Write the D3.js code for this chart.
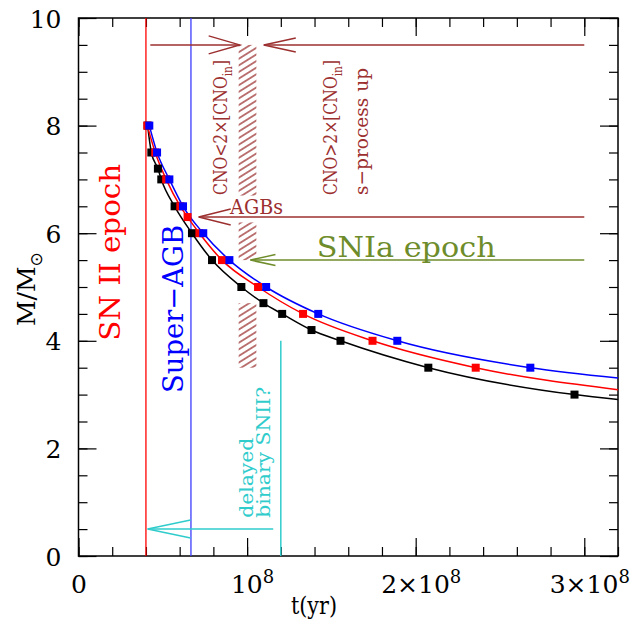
<!DOCTYPE html>
<html>
<head>
<meta charset="utf-8">
<script src="https://cdn.jsdelivr.net/npm/d3@7"></script>
<style>
body{margin:0;background:#fff;}
text{font-family:"DejaVu Serif","Liberation Serif",serif;}
</style>
</head>
<body>
<div class="chart-container"></div>
<script>
// values: t in yr, M in solar masses
const timeRed   = [0.408e8, 0.455e8, 0.52e8, 0.604e8, 0.647e8, 0.717e8, 0.851e8, 1.065e8, 1.332e8, 1.744e8, 2.356e8];
const massRed   = [8, 7.5, 7, 6.5, 6.3, 6, 5.5, 5, 4.5, 4, 3.5];
const timeBlue  = [0.42e8, 0.466e8, 0.539e8, 0.62e8, 0.74e8, 0.895e8, 1.113e8, 1.422e8, 1.891e8, 2.68e8];
const massBlue  = [8, 7.5, 7, 6.5, 6, 5.5, 5, 4.5, 4, 3.5];
const timeBlack = [0.41e8, 0.432e8, 0.471e8, 0.491e8, 0.57e8, 0.673e8, 0.792e8, 0.966e8, 1.097e8, 1.208e8, 1.382e8, 1.554e8, 2.075e8, 2.942e8];
const massBlack = [8, 7.5, 7.2, 7, 6.5, 6, 5.5, 5, 4.7, 4.5, 4.2, 4, 3.5, 3];
// where each curve leaves the right edge (t = 3.2e8)
const edgeMass  = {red: 3.09, blue: 3.31, black: 2.91};

// epochs / annotations
const snIIEpochT = 0.40e8;
const superAgbT  = 0.667e8;
const delayedT   = 1.2e8;
const delayedTopM = 4;
const arrowFromT = [0.426e8, 3.0e8, 3.0e8, 3.0e8, 1.155e8];
const arrowToT   = [0.956e8, 1.099e8, 0.713e8, 1.02e8, 0.41e8];
const arrowMass  = [9.5, 9.5, 6.3, 5.5, 0.5];
const hatchT     = [0.95e8, 1.055e8];
const hatchLowM  = [6.7, 5.5, 3.5];
const hatchHighM = [9.5, 6.2, 4.7];

// axes
const xDomain = [0, 3.2e8];
const yDomain = [0, 10];
const xTickValues = [0, 1e8, 2e8, 3e8];
const xTickLabels = ['0', '10^8', '2×10^8', '3×10^8'];
const yTickValues = [0, 2, 4, 6, 8, 10];

const darkRed = '#9c2f2f';
const olive = '#6e8c2a';
const cyan = '#30cccc';

function setupCanvas(){
    const svg_width = 637;
    const svg_height = 626;
    const chart_margin = {top:18, right:19, bottom:70, left:78.5};
    const x0 = chart_margin.left, x1 = svg_width - chart_margin.right;
    const y0 = svg_height - chart_margin.bottom, y1 = chart_margin.top;

    const svg = d3.select('.chart-container').append('svg')
        .attr('width', svg_width).attr('height', svg_height);

    const xScale = d3.scaleLinear().domain(xDomain).range([x0, x1]);
    const yScale = d3.scaleLinear().domain(yDomain).range([y0, y1]);

    const defs = svg.append('defs');
    defs.append('clipPath').attr('id', 'plot-clip')
        .append('rect').attr('x', x0).attr('y', y1).attr('width', x1 - x0).attr('height', y0 - y1);
    const pat = defs.append('pattern').attr('id', 'hatch')
        .attr('patternUnits', 'userSpaceOnUse')
        .attr('width', 12).attr('height', 5.6)
        .attr('patternTransform', 'rotate(-32)');
    pat.append('line').attr('x1', 0).attr('x2', 12).attr('y1', 2.8).attr('y2', 2.8)
        .attr('stroke', darkRed).attr('stroke-width', 1.3);

    // ticks: minor + major on all four sides, pointing inward
    const xMinor = d3.range(0, 3.2e8 + 1, 2e7);
    const yMinor = d3.range(0, 10.01, 0.5);
    function ticks(axisFn, values, size, tr){
        const g = svg.append('g').attr('transform', tr)
            .call(axisFn.tickValues(values).tickSizeInner(-size).tickSizeOuter(0).tickFormat(''));
        g.select('.domain').remove();
        g.selectAll('line').attr('stroke-width', 1.2);
        return g;
    }
    ticks(d3.axisBottom(xScale), xMinor, 9, `translate(0,${y0})`);
    ticks(d3.axisTop(xScale), xMinor, 9, `translate(0,${y1})`);
    ticks(d3.axisLeft(yScale), yMinor, 9, `translate(${x0},0)`);
    ticks(d3.axisRight(yScale), yMinor, 9, `translate(${x1},0)`);
    ticks(d3.axisTop(xScale), xTickValues, 18, `translate(0,${y1})`);
    ticks(d3.axisRight(yScale), yTickValues, 18, `translate(${x1},0)`);

    const xAxisDraw = ticks(d3.axisBottom(xScale), xTickValues, 18, `translate(0,${y0})`);
    xAxisDraw.selectAll('.tick').append('text')
        .attr('fill', '#000').attr('font-size', 25).attr('text-anchor', 'middle')
        .attr('y', 37)
        .each(function(d, i){
            const parts = xTickLabels[i].split('^');
            const t = d3.select(this);
            t.append('tspan').text(parts[0]);
            if(parts[1]){
                t.attr('dx', 5);
                t.append('tspan').attr('dy', -10).attr('font-size', 18).text(parts[1]);
            }
        });

    const yAxisDraw = ticks(d3.axisLeft(yScale), yTickValues, 18, `translate(${x0},0)`);
    yAxisDraw.selectAll('.tick').append('text')
        .attr('fill', '#000').attr('font-size', 25).attr('text-anchor', 'end')
        .attr('x', -17).attr('dy', '0.36em')
        .text(d => d);

    // frame
    svg.append('rect').attr('x', x0).attr('y', y1)
        .attr('width', x1 - x0).attr('height', y0 - y1)
        .attr('fill', 'none').attr('stroke', '#000').attr('stroke-width', 1.5);

    // axis titles
    svg.append('text').attr('x', 291).attr('y', 614)
        .attr('font-size', 25).attr('textLength', 46).attr('lengthAdjust', 'spacingAndGlyphs')
        .text('t(yr)');
    const yl = svg.append('text').attr('transform', 'translate(35,326) rotate(-90)')
        .attr('font-size', 25);
    yl.append('tspan').text('M/M');
    yl.append('tspan').attr('dy', 7).attr('font-size', 17).attr('font-family', 'DejaVu Sans').text('⊙');

    const plot = svg.append('g').attr('clip-path', 'url(#plot-clip)');

    // hatched band
    plot.selectAll('.hatch').data(hatchLowM).enter().append('rect')
        .attr('class', 'hatch')
        .attr('x', xScale(hatchT[0]))
        .attr('width', xScale(hatchT[1]) - xScale(hatchT[0]))
        .attr('y', (d, i) => yScale(hatchHighM[i]))
        .attr('height', (d, i) => yScale(d) - yScale(hatchHighM[i]))
        .attr('fill', 'url(#hatch)');

    // epoch lines
    plot.append('line').attr('x1', xScale(snIIEpochT)).attr('x2', xScale(snIIEpochT))
        .attr('y1', y1).attr('y2', y0).attr('stroke', '#ff0000').attr('stroke-width', 1.3);
    plot.append('line').attr('x1', xScale(superAgbT)).attr('x2', xScale(superAgbT))
        .attr('y1', y1).attr('y2', y0).attr('stroke', '#3c3cff').attr('stroke-width', 1.3);
    plot.append('line').attr('x1', xScale(delayedT)).attr('x2', xScale(delayedT))
        .attr('y1', yScale(delayedTopM)).attr('y2', y0).attr('stroke', cyan).attr('stroke-width', 1.5);

    // arrows with open heads
    const arrowColor = [darkRed, darkRed, darkRed, olive, cyan];
    const arrowHead = [[31, 9], [32, 7], [32, 8], [25, 5.5], [43, 9]];
    arrowMass.forEach((m, i) => {
        const xa = xScale(arrowFromT[i]), xb = xScale(arrowToT[i]), y = yScale(m);
        const dir = xa > xb ? 1 : -1;
        const [len, spread] = arrowHead[i];
        plot.append('line').attr('x1', xa).attr('x2', xb).attr('y1', y).attr('y2', y)
            .attr('stroke', arrowColor[i]).attr('stroke-width', 1.5);
        plot.append('path')
            .attr('d', `M${xb + dir * len},${y - spread}L${xb},${y}L${xb + dir * len},${y + spread}`)
            .attr('fill', 'none').attr('stroke', arrowColor[i]).attr('stroke-width', 1.5);
    });

    // mass-lifetime curves
    const line = d3.line().x(d => xScale(d.t)).y(d => yScale(d.m)).curve(d3.curveMonotoneX);
    const series = [
        {times: timeBlack, masses: massBlack, edge: edgeMass.black, color: '#000000'},
        {times: timeRed, masses: massRed, edge: edgeMass.red, color: '#ff0000'},
        {times: timeBlue, masses: massBlue, edge: edgeMass.blue, color: '#0000ff'}
    ];
    series.forEach(s => {
        const pts = s.times.map((t, i) => ({t: t, m: s.masses[i]}));
        plot.append('path').datum(pts.concat([{t: xDomain[1], m: s.edge}]))
            .attr('d', line).attr('fill', 'none')
            .attr('stroke', s.color).attr('stroke-width', 1.5);
    });
    series.forEach(s => {
        const pts = s.times.map((t, i) => ({t: t, m: s.masses[i]}));
        plot.selectAll(null).data(pts).enter().append('rect')
            .attr('x', d => xScale(d.t) - 4).attr('y', d => yScale(d.m) - 4)
            .attr('width', 8).attr('height', 8)
            .attr('fill', s.color);
    });

    // text labels
    function rotText(t, m, str, size, color, len){
        const el = svg.append('text')
            .attr('transform', `translate(${xScale(t)},${yScale(m)}) rotate(-90)`)
            .attr('font-size', size).attr('fill', color);
        if(len) el.attr('textLength', len).attr('lengthAdjust', 'spacingAndGlyphs');
        return el;
    }
    rotText(0.246e8, 4.0, '', 28, '#ff0000', 177).text('SN II epoch');
    rotText(0.62e8, 3.03, '', 28, '#0000ff', 168).text('Super−AGB');
    [[0.881e8, '<'], [1.533e8, '>']].forEach(([t, op]) => {
        const el = rotText(t, 6.71, '', 19, darkRed, 135);
        el.append('tspan').text(`CNO${op}2×[CNO`);
        el.append('tspan').attr('dy', 5).attr('font-size', 13).text('in');
        el.append('tspan').attr('dy', -5).text(']');
    });
    rotText(1.717e8, 6.71, '', 19, darkRed, 127).text('s−process up');
    rotText(1.035e8, 0.71, '', 19, cyan, 80).text('delayed');
    rotText(1.136e8, 0.71, '', 19, cyan, 131).text('binary SNII?');

    svg.append('text').attr('x', xScale(0.899e8)).attr('y', yScale(6.36))
        .attr('font-size', 20).attr('fill', darkRed)
        .attr('textLength', 53).attr('lengthAdjust', 'spacingAndGlyphs').text('AGBs');
    svg.append('text').attr('x', xScale(1.413e8)).attr('y', yScale(5.56))
        .attr('font-size', 28).attr('fill', olive)
        .attr('textLength', 179).attr('lengthAdjust', 'spacingAndGlyphs').text('SNIa epoch');
}

setupCanvas();
</script>
</body>
</html>
